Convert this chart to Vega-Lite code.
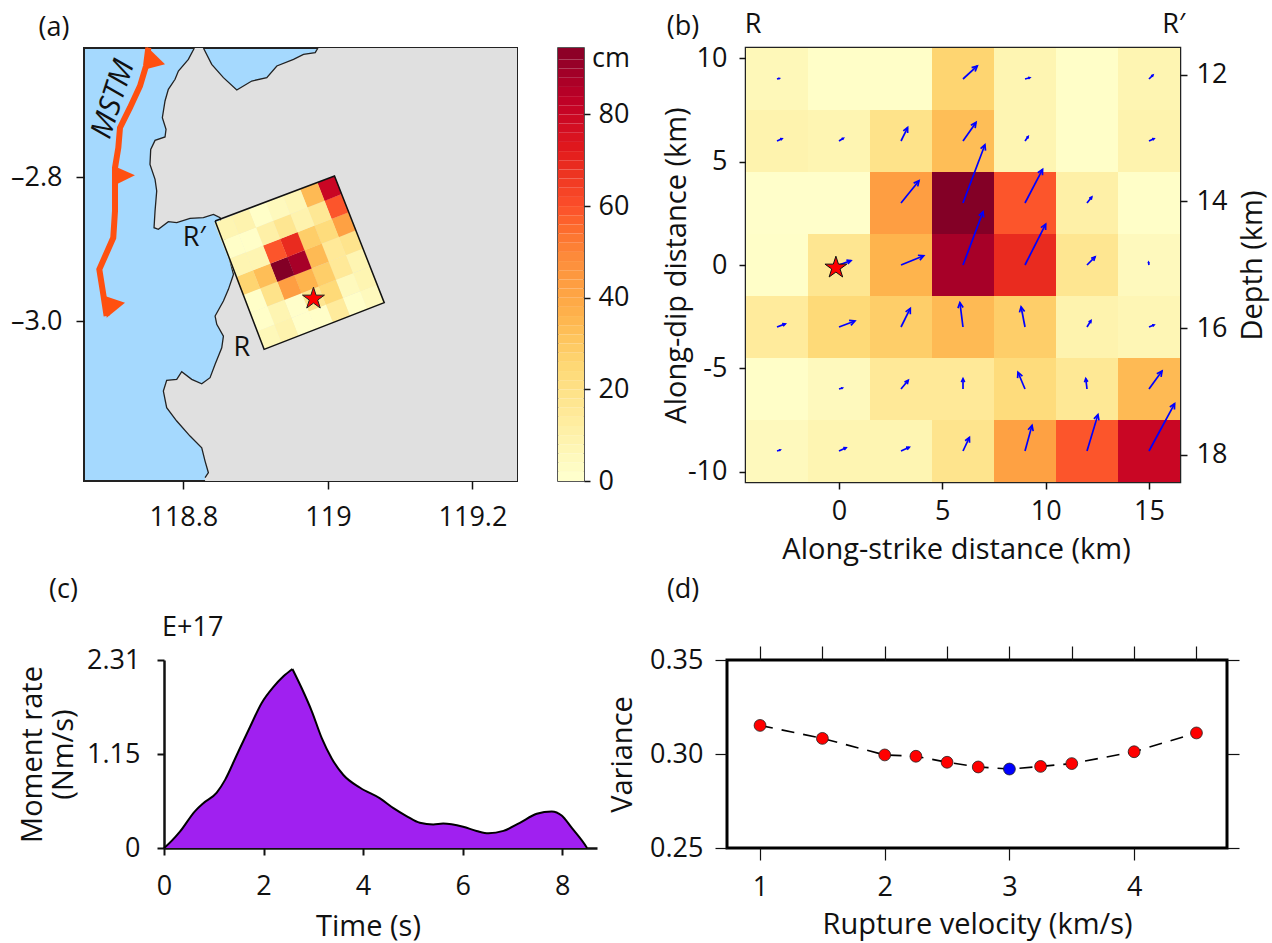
{"$schema":"https://vega.github.io/schema/vega-lite/v6.json","padding":{"left":9,"top":10,"right":0,"bottom":5},"background":"white","bounds":"flush","spacing":612,
"config":{"font":"Open Sans","view":{"stroke":null},"axis":{"grid":false,"labelFont":"Open Sans","titleFont":"Open Sans","labelFontSize":27,"titleFontSize":29,"titleFontWeight":"normal","labelColor":"#111","titleColor":"#111","tickColor":"#111","domainColor":"#111","tickSize":7,"tickWidth":1.5,"labelPadding":6,"labelOverlap":false,"labelFlush":false,"domain":false},"text":{"font":"Open Sans","fontSize":27,"color":"#111"}},
"datasets":{
"slip":[
{"strike":-3,"dip":-9,"slip":4,"lon":119.0612,"lat":-2.9666,"u":0.15,"v":0.05},{"strike":0,"dip":-9,"slip":7,"lon":119.0514,"lat":-2.9415,"u":0.34,"v":0.16},{"strike":3,"dip":-9,"slip":7,"lon":119.0415,"lat":-2.9163,"u":0.4,"v":0.18},{"strike":6,"dip":-9,"slip":17,"lon":119.0317,"lat":-2.8912,"u":0.31,"v":0.66},{"strike":9,"dip":-9,"slip":41,"lon":119.0219,"lat":-2.8661,"u":0.34,"v":1.24},{"strike":12,"dip":-9,"slip":58,"lon":119.012,"lat":-2.841,"u":0.53,"v":1.76},{"strike":15,"dip":-9,"slip":79,"lon":119.0022,"lat":-2.8158,"u":1.24,"v":2.29},
{"strike":-3,"dip":-6,"slip":1,"lon":119.0375,"lat":-2.9759},{"strike":0,"dip":-6,"slip":4,"lon":119.0277,"lat":-2.9508,"u":0.16,"v":0.05},{"strike":3,"dip":-6,"slip":14,"lon":119.0178,"lat":-2.9256,"u":0.35,"v":0.42},{"strike":6,"dip":-6,"slip":14,"lon":119.008,"lat":-2.9005,"u":0,"v":0.5},{"strike":9,"dip":-6,"slip":22,"lon":118.9982,"lat":-2.8754,"u":-0.34,"v":0.81},{"strike":12,"dip":-6,"slip":15,"lon":118.9883,"lat":-2.8503,"u":-0.06,"v":0.5},{"strike":15,"dip":-6,"slip":33,"lon":118.9785,"lat":-2.8251,"u":0.63,"v":0.87},
{"strike":-3,"dip":-3,"slip":13,"lon":119.0137,"lat":-2.9851,"u":0.4,"v":0.15},{"strike":0,"dip":-3,"slip":23,"lon":119.0039,"lat":-2.96,"u":0.77,"v":0.29},{"strike":3,"dip":-3,"slip":27,"lon":118.9941,"lat":-2.9349,"u":0.45,"v":0.9},{"strike":6,"dip":-3,"slip":33,"lon":118.9842,"lat":-2.9097,"u":-0.15,"v":1.18},{"strike":9,"dip":-3,"slip":27,"lon":118.9744,"lat":-2.8846,"u":-0.19,"v":0.98},{"strike":12,"dip":-3,"slip":8,"lon":118.9646,"lat":-2.8595,"u":0.19,"v":0.31},{"strike":15,"dip":-3,"slip":6,"lon":118.9547,"lat":-2.8344,"u":0.24,"v":0.1},
{"strike":-3,"dip":0,"slip":1,"lon":118.99,"lat":-2.9944},{"strike":0,"dip":0,"slip":16,"lon":118.9802,"lat":-2.9693,"u":0.58,"v":0.21},{"strike":3,"dip":0,"slip":35,"lon":118.9703,"lat":-2.9441,"u":1.1,"v":0.45},{"strike":6,"dip":0,"slip":87,"lon":118.9605,"lat":-2.919,"u":0.97,"v":2.58},{"strike":9,"dip":0,"slip":68,"lon":118.9507,"lat":-2.8939,"u":1,"v":1.98},{"strike":12,"dip":0,"slip":16,"lon":118.9408,"lat":-2.8688,"u":0.39,"v":0.39},{"strike":15,"dip":0,"slip":4,"lon":118.931,"lat":-2.8436,"u":-0.02,"v":0.13},
{"strike":-3,"dip":3,"slip":0.5,"lon":118.9663,"lat":-3.0036},{"strike":0,"dip":3,"slip":0.5,"lon":118.9564,"lat":-2.9785},{"strike":3,"dip":3,"slip":42,"lon":118.9466,"lat":-2.9534,"u":0.87,"v":1.08},{"strike":6,"dip":3,"slip":94,"lon":118.9368,"lat":-2.9283,"u":1.06,"v":2.82},{"strike":9,"dip":3,"slip":58,"lon":118.9269,"lat":-2.9031,"u":0.85,"v":1.63},{"strike":12,"dip":3,"slip":10,"lon":118.9171,"lat":-2.878,"u":0.23,"v":0.29},{"strike":15,"dip":3,"slip":1,"lon":118.9073,"lat":-2.8529},
{"strike":-3,"dip":6,"slip":8,"lon":118.9425,"lat":-3.0129,"u":0.24,"v":0.11},{"strike":0,"dip":6,"slip":7,"lon":118.9327,"lat":-2.9878,"u":0.21,"v":0.13},{"strike":3,"dip":6,"slip":18,"lon":118.9229,"lat":-2.9626,"u":0.32,"v":0.65},{"strike":6,"dip":6,"slip":32,"lon":118.913,"lat":-2.9375,"u":0.63,"v":0.9},{"strike":9,"dip":6,"slip":7,"lon":118.9032,"lat":-2.9124,"u":0.15,"v":0.21},{"strike":12,"dip":6,"slip":1,"lon":118.8934,"lat":-2.8873},{"strike":15,"dip":6,"slip":8,"lon":118.8835,"lat":-2.8621,"u":0.24,"v":0.11},
{"strike":-3,"dip":9,"slip":5,"lon":118.9188,"lat":-3.0222,"u":0.11,"v":0.03},{"strike":0,"dip":9,"slip":1,"lon":118.909,"lat":-2.997},{"strike":3,"dip":9,"slip":1,"lon":118.8991,"lat":-2.9719},{"strike":6,"dip":9,"slip":25,"lon":118.8893,"lat":-2.9468,"u":0.69,"v":0.63},{"strike":9,"dip":9,"slip":7,"lon":118.8795,"lat":-2.9217,"u":0.23,"v":0.06},{"strike":12,"dip":9,"slip":1,"lon":118.8696,"lat":-2.8965},{"strike":15,"dip":9,"slip":7,"lon":118.8598,"lat":-2.8714,"u":0.19,"v":0.19}],
"bar":[{"c":0,"a":0,"b":2},{"c":2,"a":2,"b":4},{"c":4,"a":4,"b":6},{"c":6,"a":6,"b":8},{"c":8,"a":8,"b":10},{"c":10,"a":10,"b":12},{"c":12,"a":12,"b":14},{"c":14,"a":14,"b":16},{"c":16,"a":16,"b":18},{"c":18,"a":18,"b":20},{"c":20,"a":20,"b":22},{"c":22,"a":22,"b":24},{"c":24,"a":24,"b":26},{"c":26,"a":26,"b":28},{"c":28,"a":28,"b":30},{"c":30,"a":30,"b":32},{"c":32,"a":32,"b":34},{"c":34,"a":34,"b":36},{"c":36,"a":36,"b":38},{"c":38,"a":38,"b":40},{"c":40,"a":40,"b":42},{"c":42,"a":42,"b":44},{"c":44,"a":44,"b":46},{"c":46,"a":46,"b":48},{"c":48,"a":48,"b":50},{"c":50,"a":50,"b":52},{"c":52,"a":52,"b":54},{"c":54,"a":54,"b":56},{"c":56,"a":56,"b":58},{"c":58,"a":58,"b":60},{"c":60,"a":60,"b":62},{"c":62,"a":62,"b":64},{"c":64,"a":64,"b":66},{"c":66,"a":66,"b":68},{"c":68,"a":68,"b":70},{"c":70,"a":70,"b":72},{"c":72,"a":72,"b":74},{"c":74,"a":74,"b":76},{"c":76,"a":76,"b":78},{"c":78,"a":78,"b":80},{"c":80,"a":80,"b":82},{"c":82,"a":82,"b":84},{"c":84,"a":84,"b":86},{"c":86,"a":86,"b":88},{"c":88,"a":88,"b":90},{"c":90,"a":90,"b":92},{"c":92,"a":92,"b":94.5}],
"land":[
{"lon":118.8152,"lat":-2.6208,"c":1},{"lon":118.8069,"lat":-2.6366,"c":1},{"lon":118.7931,"lat":-2.6528,"c":1},{"lon":118.7885,"lat":-2.6643,"c":1},{"lon":118.7792,"lat":-2.6782,"c":1},{"lon":118.7746,"lat":-2.6944,"c":1},{"lon":118.7709,"lat":-2.7176,"c":1},{"lon":118.776,"lat":-2.7338,"c":1},{"lon":118.7746,"lat":-2.7444,"c":1},{"lon":118.7608,"lat":-2.7491,"c":1},{"lon":118.7548,"lat":-2.7616,"c":1},{"lon":118.7538,"lat":-2.7824,"c":1},{"lon":118.7608,"lat":-2.8032,"c":1},{"lon":118.7631,"lat":-2.8194,"c":1},{"lon":118.7608,"lat":-2.8472,"c":1},{"lon":118.7594,"lat":-2.8704,"c":1},{"lon":118.7654,"lat":-2.8727,"c":1},{"lon":118.7792,"lat":-2.862,"c":1},{"lon":118.7908,"lat":-2.8634,"c":1},{"lon":118.8092,"lat":-2.8574,"c":1},{"lon":118.8277,"lat":-2.8565,"c":1},{"lon":118.8416,"lat":-2.8519,"c":1},{"lon":118.8508,"lat":-2.8565,"c":1},{"lon":118.86,"lat":-2.8982,"c":1},{"lon":118.8693,"lat":-2.9352,"c":1},{"lon":118.8623,"lat":-2.956,"c":1},{"lon":118.8554,"lat":-2.9722,"c":1},{"lon":118.8439,"lat":-2.9931,"c":1},{"lon":118.8462,"lat":-3.0046,"c":1},{"lon":118.8554,"lat":-3.0209,"c":1},{"lon":118.8531,"lat":-3.0371,"c":1},{"lon":118.8439,"lat":-3.0602,"c":1},{"lon":118.8369,"lat":-3.0787,"c":1},{"lon":118.8254,"lat":-3.0871,"c":1},{"lon":118.8115,"lat":-3.081,"c":1},{"lon":118.7977,"lat":-3.0704,"c":1},{"lon":118.7908,"lat":-3.081,"c":1},{"lon":118.7769,"lat":-3.0824,"c":1},{"lon":118.7723,"lat":-3.0972,"c":1},{"lon":118.7769,"lat":-3.1204,"c":1},{"lon":118.7908,"lat":-3.1389,"c":1},{"lon":118.8092,"lat":-3.1598,"c":1},{"lon":118.8254,"lat":-3.176,"c":1},{"lon":118.83,"lat":-3.1945,"c":1},{"lon":118.8346,"lat":-3.2107,"c":1},{"lon":118.83,"lat":-3.2176,"c":1},
{"lon":118.83,"lat":-3.2222,"c":0},{"lon":119.2616,"lat":-3.2222,"c":0},{"lon":119.2616,"lat":-2.6208,"c":0},{"lon":118.9862,"lat":-2.6208,"c":2},
{"lon":118.9824,"lat":-2.6273,"c":2},{"lon":118.9662,"lat":-2.6296,"c":2},{"lon":118.9524,"lat":-2.6366,"c":2},{"lon":118.9293,"lat":-2.6458,"c":2},{"lon":118.9154,"lat":-2.662,"c":2},{"lon":118.8946,"lat":-2.6667,"c":2},{"lon":118.8739,"lat":-2.6792,"c":2},{"lon":118.8554,"lat":-2.662,"c":2},{"lon":118.8392,"lat":-2.6435,"c":2},{"lon":118.8277,"lat":-2.6208,"c":2}],
"fault":[{"lon":118.7515,"lat":-2.6204},{"lon":118.7483,"lat":-2.6458},{"lon":118.74,"lat":-2.6736},{"lon":118.7261,"lat":-2.7037},{"lon":118.7123,"lat":-2.7315},{"lon":118.71,"lat":-2.7593},{"lon":118.7054,"lat":-2.787},{"lon":118.7054,"lat":-2.8241},{"lon":118.7054,"lat":-2.8472},{"lon":118.703,"lat":-2.8843},{"lon":118.6837,"lat":-2.9283},{"lon":118.6892,"lat":-2.963},{"lon":118.6938,"lat":-2.9931}],
"teeth":[{"g":1,"lon":118.7501,"lat":-2.6194},{"g":1,"lon":118.7746,"lat":-2.6435},{"g":1,"lon":118.7469,"lat":-2.6505},{"g":2,"lon":118.704,"lat":-2.7847},{"g":2,"lon":118.733,"lat":-2.7977},{"g":2,"lon":118.7077,"lat":-2.8102},{"g":3,"lon":118.6915,"lat":-2.9653},{"g":3,"lon":118.7192,"lat":-2.9746},{"g":3,"lon":118.6938,"lat":-2.9954}],
"rate":[{"t":0,"m":0},{"t":0.02,"m":0.01},{"t":0.32,"m":0.2},{"t":0.62,"m":0.45},{"t":0.79,"m":0.55},{"t":1.06,"m":0.68},{"t":1.23,"m":0.84},{"t":1.46,"m":1.14},{"t":1.73,"m":1.49},{"t":1.96,"m":1.78},{"t":2.2,"m":1.98},{"t":2.4,"m":2.11},{"t":2.58,"m":2.2},{"t":2.77,"m":1.96},{"t":2.97,"m":1.68},{"t":3.17,"m":1.35},{"t":3.37,"m":1.1},{"t":3.6,"m":0.9},{"t":3.94,"m":0.74},{"t":4.34,"m":0.61},{"t":4.61,"m":0.49},{"t":4.88,"m":0.39},{"t":5.14,"m":0.31},{"t":5.41,"m":0.29},{"t":5.61,"m":0.3},{"t":6.01,"m":0.26},{"t":6.28,"m":0.21},{"t":6.52,"m":0.18},{"t":6.82,"m":0.21},{"t":7.15,"m":0.31},{"t":7.49,"m":0.42},{"t":7.79,"m":0.45},{"t":7.99,"m":0.4},{"t":8.19,"m":0.25},{"t":8.49,"m":0.01},{"t":8.5,"m":0}],
"vr":[{"vr":1,"var":0.3152,"kind":"trial"},{"vr":1.5,"var":0.3083,"kind":"trial"},{"vr":2,"var":0.2995,"kind":"trial"},{"vr":2.25,"var":0.2988,"kind":"trial"},{"vr":2.5,"var":0.2956,"kind":"trial"},{"vr":2.75,"var":0.2931,"kind":"trial"},{"vr":3,"var":0.292,"kind":"best"},{"vr":3.25,"var":0.2934,"kind":"trial"},{"vr":3.5,"var":0.2949,"kind":"trial"},{"vr":4,"var":0.3012,"kind":"trial"},{"vr":4.5,"var":0.3112,"kind":"trial"}]
},
"vconcat":[
{"hconcat":[
{"width":433,"height":433,
"view":{"fill":"#a5d9fe","stroke":"#222","strokeWidth":2},
"encoding":{"x":{"field":"lon","type":"quantitative","scale":{"domain":[118.6625,119.2616],"nice":false,"zero":false},"axis":{"values":[118.8,119,119.2],"format":"~r","title":null,"labelPadding":15,"tickSize":8}},"y":{"field":"lat","type":"quantitative","scale":{"domain":[-3.2222,-2.6208],"nice":false,"zero":false},"axis":{"values":[-2.8,-3],"labelExpr":"'–'+format(abs(datum.value),'.1f')","title":null,"tickSize":8,"labelPadding":14}}},
"layer":[
{"data":{"name":"land"},"mark":{"type":"line","fill":"#e0e0e0","strokeWidth":0,"clip":true},"encoding":{"order":{"value":null}}},
{"data":{"name":"land"},"transform":[{"filter":"datum.c>0"}],"mark":{"type":"line","color":"#222","strokeWidth":1.3},"encoding":{"order":{"value":null},"detail":{"field":"c"}}},
{"data":{"name":"fault"},"mark":{"type":"line","color":"#ff5010","strokeWidth":6,"clip":false},"encoding":{"order":{"value":null}}},
{"data":{"name":"teeth"},"mark":{"type":"line","fill":"#ff5010","strokeWidth":0,"clip":false},"encoding":{"order":{"value":null},"detail":{"field":"g"}}},
{"data":{"name":"slip"},"mark":{"type":"point","filled":true,"opacity":1,"shape":"M-0.95,-1L0.95,-1L0.95,1L-0.95,1Z","angle":338.6,"size":384},"encoding":{"color":{"field":"slip","type":"quantitative","scale":{"domain":[0,11.81,23.63,35.44,47.25,59.06,70.88,82.69,94.5],"range":["#ffffcc","#ffeda0","#fed976","#feb24c","#fd8d3c","#fc4e2a","#e31a1c","#bd0026","#800026"]},"legend":null}}},
{"data":{"values":[{"lon":118.8439,"lat":-2.8611},{"lon":119.0091,"lat":-2.7986},{"lon":119.0779,"lat":-2.9745},{"lon":118.9117,"lat":-3.0394},{"lon":118.8439,"lat":-2.8611}]},"mark":{"type":"line","color":"#111","strokeWidth":1.5},"encoding":{"order":{"value":null}}},
{"data":{"values":[{"lon":118.98,"lat":-2.969}]},"mark":{"type":"point","filled":true,"opacity":1,"fill":"#ff0000","stroke":"#222","strokeWidth":1,"shape":"M0,-1L.225,-.309L.951,-.309L.363,.118L.588,.809L0,.382L-.588,.809L-.363,.118L-.951,-.309L-.225,-.309Z","size":529}},
{"data":{"values":[{"lon":118.703,"lat":-2.692,"label":"MSTM"}]},"mark":{"type":"text","angle":-72,"fontStyle":"italic","fontSize":30,"clip":false},"encoding":{"text":{"field":"label"}}},
{"data":{"values":[{"lon":118.815,"lat":-2.884,"label":"R′"},{"lon":118.881,"lat":-3.037,"label":"R"},{"lon":118.621,"lat":-2.593,"label":"(a)"}]},"mark":{"type":"text","clip":false},"encoding":{"text":{"field":"label"}}}
]},
{"width":41,"height":10,"data":{"values":[]},"mark":"rect","encoding":{}},
{"width":26,"height":433,
"view":{"stroke":"#222","strokeWidth":1.5},
"encoding":{"y":{"field":"a","type":"quantitative","scale":{"domain":[0,94.5],"nice":false},"axis":{"orient":"right","values":[0,20,40,60,80],"title":null,"tickSize":6,"labelPadding":8}}},
"layer":[
{"data":{"name":"bar"},"mark":{"type":"rect"},"encoding":{"y2":{"field":"b"},"color":{"field":"c","type":"quantitative","scale":{"domain":[0,11.81,23.63,35.44,47.25,59.06,70.88,82.69,94.5],"range":["#ffffcc","#ffeda0","#fed976","#feb24c","#fd8d3c","#fc4e2a","#e31a1c","#bd0026","#800026"]},"legend":null}}},
{"data":{"values":[{"a":92,"label":"cm"}]},"mark":{"type":"text","clip":false,"align":"left","dx":34,"x":0},"encoding":{"text":{"field":"label"}}}
]},
{"width":162,"height":10,"data":{"values":[]},"mark":"rect","encoding":{}},
{"width":434,"height":434,
"view":{"stroke":"#222","strokeWidth":2.5},
"resolve":{"scale":{"y":"independent"}},
"layer":[
{"encoding":{"x":{"field":"strike","type":"quantitative","scale":{"domain":[-4.5,16.5],"nice":false,"zero":false},"axis":{"values":[0,5,10,15],"title":"Along-strike distance (km)","titleX":210,"labelExpr":"''+datum.value","labelPadding":9,"titlePadding":11}},"y":{"field":"dip","type":"quantitative","scale":{"domain":[-10.5,10.5],"nice":false,"zero":false},"axis":{"values":[-10,-5,0,5,10],"title":"Along-dip distance (km)","labelExpr":"''+datum.value","labelPadding":12,"titlePadding":-4}}},
"layer":[
{"data":{"name":"slip"},"transform":[{"calculate":"datum.strike-1.5","as":"x0"},{"calculate":"datum.strike+1.5","as":"x1"},{"calculate":"datum.dip-1.5","as":"y0"},{"calculate":"datum.dip+1.5","as":"y1"}],"mark":{"type":"rect"},"encoding":{"x":{"field":"x0","type":"quantitative"},"x2":{"field":"x1"},"y":{"field":"y0","type":"quantitative"},"y2":{"field":"y1"},"color":{"field":"slip","type":"quantitative","scale":{"domain":[0,11.81,23.63,35.44,47.25,59.06,70.88,82.69,94.5],"range":["#ffffcc","#ffeda0","#fed976","#feb24c","#fd8d3c","#fc4e2a","#e31a1c","#bd0026","#800026"]},"legend":null}}},
{"data":{"name":"slip"},"transform":[{"filter":"isValid(datum.u)"},{"calculate":"datum.strike+datum.u","as":"tx"},{"calculate":"datum.dip+datum.v","as":"ty"}],"mark":{"type":"rule","color":"#0000ff","strokeWidth":1.7},"encoding":{"x2":{"field":"tx"},"y2":{"field":"ty"}}},
{"data":{"name":"slip"},"transform":[{"filter":"isValid(datum.u)"},{"calculate":"datum.strike+datum.u","as":"tx"},{"calculate":"datum.dip+datum.v","as":"ty"},{"calculate":"atan2(datum.u,datum.v)*180/PI","as":"rot"},{"calculate":"min(110,pow(sqrt(datum.u*datum.u+datum.v*datum.v)*20.65*0.65,2))","as":"hs"}],"mark":{"type":"point","filled":false,"opacity":1,"color":"#0000ff","strokeWidth":1.7,"shape":"M-0.5,1L0,0L0.5,1"},"encoding":{"x":{"field":"tx","type":"quantitative"},"y":{"field":"ty","type":"quantitative"},"angle":{"field":"rot","type":"quantitative","scale":null},"size":{"field":"hs","type":"quantitative","scale":null}}},
{"data":{"values":[{"strike":-0.15,"dip":-0.13}]},"mark":{"type":"point","filled":true,"opacity":1,"fill":"#ff0000","stroke":"#111","strokeWidth":1,"shape":"M0,-1L.225,-.309L.951,-.309L.363,.118L.588,.809L0,.382L-.588,.809L-.363,.118L-.951,-.309L-.225,-.309Z","size":529}},
{"data":{"values":[{"strike":-7.55,"dip":11.5,"label":"(b)"},{"strike":-4.16,"dip":11.6,"label":"R"},{"strike":16.2,"dip":11.6,"label":"R′"}]},"mark":{"type":"text","clip":false},"encoding":{"text":{"field":"label"}}}
]},
{"data":{"values":[{"depth":12},{"depth":14},{"depth":16},{"depth":18}]},"mark":{"type":"point","opacity":0},"encoding":{"y":{"field":"depth","type":"quantitative","scale":{"domain":[18.43,11.58],"nice":false,"zero":false},"axis":{"orient":"right","values":[12,14,16,18],"title":"Depth (km)","titleAngle":270,"labelPadding":9,"titlePadding":41}}}}
]}
],"bounds":"flush","spacing":0},
{"hconcat":[
{"width":80,"height":10,"data":{"values":[]},"mark":"rect","encoding":{}},
{"width":433,"height":188,"data":{"name":"rate"},
"encoding":{"x":{"field":"t","type":"quantitative","scale":{"domain":[0,8.7],"nice":false},"axis":{"values":[0,2,4,6,8],"title":"Time (s)","titleX":204,"domain":true,"domainWidth":2.5,"tickWidth":2,"labelPadding":18,"titlePadding":13}},"y":{"field":"m","type":"quantitative","scale":{"domain":[0,2.31],"nice":false},"axis":{"values":[0,1.15,2.31],"labelExpr":"''+datum.value","title":["Moment rate","(Nm/s)"],"domain":true,"domainWidth":2.5,"tickWidth":2,"labelPadding":17,"titlePadding":8}}},
"layer":[
{"transform":[{"filter":"datum.t>=2.2 && datum.t<=2.97"}],"mark":{"type":"area","color":"#a020f0","opacity":1}},
{"transform":[{"filter":"datum.t<=2.58"}],"mark":{"type":"area","color":"#a020f0","opacity":1,"line":{"color":"#000","strokeWidth":2},"interpolate":"monotone"}},
{"transform":[{"filter":"datum.t>=2.58"}],"mark":{"type":"area","color":"#a020f0","opacity":1,"line":{"color":"#000","strokeWidth":2},"interpolate":"monotone"}},
{"data":{"values":[{"t":-0.04,"m":2.7,"label":"E+17"},{"t":-2.31,"m":3.17,"label":"(c)"}]},"mark":{"type":"text","align":"left","clip":false},"encoding":{"text":{"field":"label"}}}
]},
{"width":130,"height":10,"data":{"values":[]},"mark":"rect","encoding":{}},
{"width":500,"height":188,"data":{"name":"vr"},
"view":{"stroke":"#000","strokeWidth":3},
"resolve":{"axis":{"x":"independent","y":"independent"}},
"layer":[
{"mark":{"type":"line","color":"#000","strokeWidth":1.6,"strokeDash":[13,9]},"encoding":{"x":{"field":"vr","type":"quantitative","scale":{"domain":[0.735,4.745],"nice":false,"zero":false},"axis":{"values":[1,2,3,4],"format":"d","title":"Rupture velocity (km/s)","tickSize":12,"tickWidth":1.2,"labelPadding":14,"titlePadding":10}},"y":{"field":"var","type":"quantitative","scale":{"domain":[0.25,0.35],"nice":false,"zero":false},"axis":{"values":[0.25,0.3,0.35],"format":".2f","title":"Variance","tickSize":12,"tickWidth":1.2,"labelPadding":12,"titlePadding":12}}}},
{"mark":{"type":"point","filled":true,"opacity":1,"size":140,"stroke":"#222","strokeWidth":0.8},"encoding":{"x":{"field":"vr","type":"quantitative","axis":{"orient":"top","values":[1,1.5,2,2.5,3,3.5,4,4.5],"labels":false,"title":null,"tickSize":14,"tickWidth":1.2}},"y":{"field":"var","type":"quantitative","axis":{"orient":"right","values":[0.25,0.3,0.35],"labels":false,"title":null,"tickSize":12,"tickWidth":1.2}},"color":{"field":"kind","type":"nominal","scale":{"domain":["trial","best"],"range":["#ff0000","#0000ff"]},"legend":null}}},
{"data":{"values":[{"vr":0.383,"var":0.3874,"label":"(d)"}]},"mark":{"type":"text","clip":false},"encoding":{"x":{"field":"vr","type":"quantitative","axis":null},"y":{"field":"var","type":"quantitative","axis":null},"text":{"field":"label"}}}
]}
],"bounds":"flush","spacing":0}
]}
